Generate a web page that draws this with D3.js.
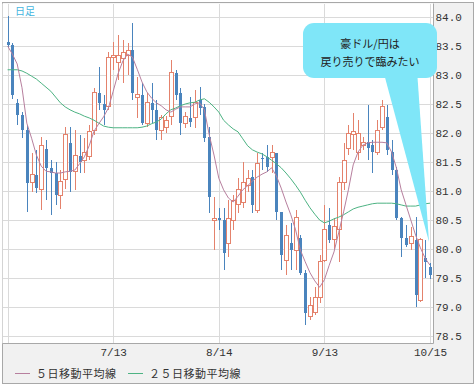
<!DOCTYPE html>
<html>
<head>
<meta charset="utf-8">
<script src="https://cdn.jsdelivr.net/npm/d3@7"></script>
<style>
  body { margin: 0; background: #fff; }
  svg { display: block; }
</style>
</head>
<body>
<svg id="chart" width="476" height="388"></svg>
<script>
// daily candles, AUD/JPY (one entry per trading day, oldest first)
const open = [83.57,83.52,82.52,82.31,82.05,81.14,81.28,81.02,81.72,81.40,
  81.31,80.93,81.19,81.83,81.33,81.60,81.53,81.59,82.05,82.69,
  82.50,82.45,83.31,83.22,83.28,83.34,83.43,82.62,82.66,82.17,
  82.52,82.40,82.05,82.09,82.28,83.03,82.69,82.17,82.26,82.26,
  82.57,82.45,81.93,80.50,80.53,80.50,80.10,80.50,80.76,80.81,
  81.10,81.24,80.67,81.57,81.59,81.57,81.66,80.64,79.81,80.10,
  79.98,80.19,79.59,78.83,78.91,79.16,79.81,80.41,80.16,80.33,
  81.14,81.74,81.97,81.67,81.79,81.84,81.79,81.67,82.09,82.28,
  81.67,81.36,80.53,80.19,80.10,80.16,79.12,79.84,79.69];
const high = [84.02,83.55,82.59,82.36,82.14,81.66,81.71,81.93,81.88,81.53,
  81.50,81.36,82.10,82.10,82.05,81.97,81.91,82.14,82.78,83.14,
  82.66,83.40,83.57,83.69,83.60,83.55,83.90,82.97,82.86,82.69,
  82.86,82.57,82.31,82.29,83.26,83.09,82.78,82.36,82.62,82.74,
  82.79,82.50,82.10,80.90,80.71,80.71,80.84,80.93,81.22,81.50,
  81.36,81.36,81.66,81.66,81.79,81.79,81.66,80.64,80.41,80.45,
  80.67,80.24,79.64,79.17,79.34,79.90,80.76,80.71,80.53,81.24,
  81.83,82.14,82.34,82.22,81.93,82.48,81.88,82.22,82.57,82.48,
  81.88,81.41,80.55,80.41,80.38,80.55,80.19,80.16,79.76];
const low = [83.47,82.59,82.14,81.91,80.64,80.98,80.97,80.67,80.84,80.59,
  80.76,80.69,81.03,80.98,81.02,81.31,81.31,81.53,81.97,82.40,
  82.14,82.40,83.09,82.91,82.86,83.00,82.57,82.26,82.14,82.10,
  82.17,81.88,81.88,82.00,82.14,82.57,81.97,82.09,82.10,82.09,
  82.31,81.84,80.62,79.98,80.33,79.64,79.86,80.33,80.62,80.71,
  80.98,80.62,80.62,81.36,81.33,81.31,80.50,79.64,79.55,79.64,
  79.64,79.55,78.69,78.78,78.86,79.07,79.78,80.10,79.98,79.78,
  81.02,81.62,81.71,81.53,81.71,81.53,81.31,81.62,82.05,81.62,
  81.28,80.50,79.86,80.03,79.98,79.00,79.09,79.50,79.48];
const close = [83.52,82.66,82.31,82.05,81.14,81.28,81.05,81.79,81.40,81.31,
  80.93,81.16,81.97,81.33,81.62,81.50,81.67,82.02,82.69,82.52,
  82.40,83.31,83.34,83.34,83.38,83.43,82.69,82.66,82.17,82.52,
  82.40,82.05,82.26,82.22,83.05,82.66,82.17,82.29,82.19,82.53,
  82.43,81.91,80.90,80.53,80.50,79.93,80.53,80.84,81.02,81.14,
  81.22,80.76,81.48,81.55,81.41,81.66,80.64,79.90,80.24,79.98,
  80.55,79.59,78.90,79.03,79.16,79.78,80.33,80.16,80.38,81.14,
  81.53,82.00,82.02,82.00,81.84,81.74,81.67,82.05,82.45,81.71,
  81.36,80.53,80.19,80.07,80.21,79.21,80.16,79.78,79.55];

// moving averages as plotted
const ma5 = [83.50,83.36,83.19,82.78,82.17,81.91,81.62,81.43,81.34,81.33,
  81.31,81.31,81.33,81.34,81.36,81.47,81.59,81.78,82.03,82.16,
  82.28,82.43,82.72,83.02,83.24,83.36,83.31,83.10,82.88,82.71,
  82.60,82.52,82.47,82.40,82.36,82.41,82.45,82.45,82.45,82.50,
  82.52,82.40,81.97,81.62,81.22,81.02,80.88,80.81,80.91,81.02,
  81.09,81.17,81.24,81.29,81.33,81.40,81.26,81.05,80.81,80.59,
  80.33,79.98,79.78,79.59,79.45,79.34,79.47,79.72,79.95,80.29,
  80.64,81.02,81.45,81.67,81.79,81.83,81.84,81.84,81.84,81.83,
  81.67,81.40,81.02,80.76,80.50,80.24,80.02,79.84,79.72];
const ma25 = [83.09,83.09,83.09,83.07,83.03,82.98,82.93,82.86,82.79,82.72,
  82.62,82.52,82.45,82.40,82.36,82.33,82.29,82.26,82.22,82.17,
  82.12,82.10,82.09,82.09,82.09,82.09,82.09,82.09,82.10,82.12,
  82.16,82.19,82.24,82.33,82.40,82.43,82.47,82.50,82.52,82.53,
  82.57,82.59,82.53,82.45,82.36,82.22,82.14,82.07,82.02,81.90,
  81.78,81.71,81.67,81.64,81.59,81.53,81.47,81.40,81.31,81.21,
  81.10,80.98,80.84,80.71,80.60,80.50,80.45,80.48,80.52,80.55,
  80.59,80.64,80.69,80.72,80.74,80.76,80.78,80.79,80.79,80.79,
  80.79,80.78,80.76,80.74,80.74,80.74,80.76,80.78,80.79];

const gridIdx = [0, 22, 44, 66, 88];
const tickIdx = [22, 44, 66, 88];
const tickLabels = ["7/13", "8/14", "9/13", "10/15"];
const yTicks = [78.5, 79.0, 79.5, 80.0, 80.5, 81.0, 81.5, 82.0, 82.5, 83.0, 83.5, 84.0];
const legendNames = ["５日移動平均線", "２５日移動平均線"];
const noteLines = ["豪ドル/円は", "戻り売りで臨みたい"];

const upColor = "#e4826c", downColor = "#4a84bd";
const ma5Color = "#b77f9e", ma25Color = "#4db383";

const svg = d3.select("#chart");
const plot = { left: 2.5, right: 433.5, top: 3.5, bottom: 343.5 };

const x = d3.scaleLinear().domain([0, open.length - 1]).range([7.6, 430]);
const y = d3.scaleLinear().domain([78.5, 84.0]).range([336, 17]);

// background + frame
svg.append("rect").attr("x", 2.5).attr("y", 2.5).attr("width", 471).attr("height", 381)
  .attr("fill", "#f1f1f1").attr("stroke", "#a8a8a8");
svg.append("rect").attr("x", plot.left).attr("y", plot.top)
  .attr("width", plot.right - plot.left).attr("height", plot.bottom - plot.top)
  .attr("fill", "#fff");

// grid
const grid = svg.append("g").attr("shape-rendering", "crispEdges");
grid.selectAll(".hg").data(yTicks).enter().append("line")
  .attr("x1", plot.left).attr("x2", plot.right)
  .attr("y1", d => Math.round(y(d)) + 0.5).attr("y2", d => Math.round(y(d)) + 0.5)
  .attr("stroke", "#dadada");
grid.selectAll(".vg").data(gridIdx).enter().append("line")
  .attr("y1", plot.top).attr("y2", plot.bottom)
  .attr("x1", d => Math.round(x(d)) + 0.5).attr("x2", d => Math.round(x(d)) + 0.5)
  .attr("stroke", "#dadada");

// candles
const idx = d3.range(open.length);
const candles = svg.append("g").attr("shape-rendering", "crispEdges");
const c = candles.selectAll("g").data(idx).enter().append("g");
c.append("line")
  .attr("x1", i => Math.round(x(i)) + 0.5).attr("x2", i => Math.round(x(i)) + 0.5)
  .attr("y1", i => y(high[i])).attr("y2", i => y(low[i]))
  .attr("stroke", i => close[i] >= open[i] ? upColor : downColor);
c.append("rect")
  .attr("x", i => Math.round(x(i)) - 1 + (close[i] >= open[i] ? -0.5 : 0))
  .attr("y", i => y(Math.max(open[i], close[i])))
  .attr("width", i => close[i] >= open[i] ? 4 : 3)
  .attr("height", i => Math.max(1, Math.abs(y(open[i]) - y(close[i]))))
  .attr("fill", i => close[i] >= open[i] ? "#fff" : downColor)
  .attr("stroke", i => close[i] >= open[i] ? upColor : "none");

// moving averages
const line = arr => d3.line().x((d, i) => x(i)).y(d => y(d))(arr);
svg.append("path").attr("d", line(ma25)).attr("fill", "none")
  .attr("stroke", ma25Color).attr("stroke-width", 1);
svg.append("path").attr("d", line(ma5)).attr("fill", "none")
  .attr("stroke", ma5Color).attr("stroke-width", 1);

// plot border
svg.append("line").attr("x1", plot.right).attr("x2", plot.right)
  .attr("y1", plot.top).attr("y2", plot.bottom).attr("stroke", "#a8a8a8");
svg.append("line").attr("x1", plot.left).attr("x2", plot.right)
  .attr("y1", plot.bottom).attr("y2", plot.bottom).attr("stroke", "#a8a8a8");

// axes
const yAxis = svg.append("g").attr("transform", `translate(${plot.right},0)`)
  .call(d3.axisRight(y).tickValues(yTicks).tickSize(0).tickPadding(2).tickFormat(d3.format(".1f")));
const xAxis = svg.append("g").attr("transform", `translate(0,${plot.bottom})`)
  .call(d3.axisBottom(x).tickValues(tickIdx).tickSize(0).tickPadding(5)
    .tickFormat((d, i) => tickLabels[i]));
[yAxis, xAxis].forEach(a => {
  a.select(".domain").remove();
  a.selectAll("text").attr("fill", "#333")
    .style("font-family", "'Liberation Mono', 'DejaVu Sans Mono', monospace")
    .style("font-size", "11px");
});

// chart label
svg.append("text").attr("x", 15).attr("y", 15).text("日足")
  .attr("fill", "#45b4de").style("font-family", "'Noto Sans CJK JP', sans-serif")
  .style("font-size", "10px");

// legend
const legend = svg.append("g").style("font-family", "'Noto Sans CJK JP', sans-serif")
  .style("font-size", "11px");
[[15, ma5Color], [128, ma25Color]].forEach(([lx, col], k) => {
  legend.append("line").attr("x1", lx).attr("x2", lx + 15).attr("y1", 373.5).attr("y2", 373.5)
    .attr("stroke", col);
  legend.append("text").attr("x", lx + 21).attr("y", 377.5).attr("fill", "#333")
    .style("letter-spacing", "0.5px").text(legendNames[k]);
});

// callout
const bubble = svg.append("g");
bubble.append("path")
  .attr("d", "M383,70 L429,242 L417,70 Z").attr("fill", "#7fe6f8");
bubble.append("rect").attr("x", 303).attr("y", 23).attr("width", 134).attr("height", 55)
  .attr("rx", 11).attr("fill", "#7fe6f8");
bubble.selectAll("text").data(noteLines).enter().append("text")
  .attr("x", 370).attr("y", (d, i) => 48 + i * 18).attr("text-anchor", "middle")
  .attr("fill", "#222").style("font-family", "'Noto Sans CJK JP', sans-serif")
  .style("font-size", "11px").text(d => d);
</script>
</body>
</html>
